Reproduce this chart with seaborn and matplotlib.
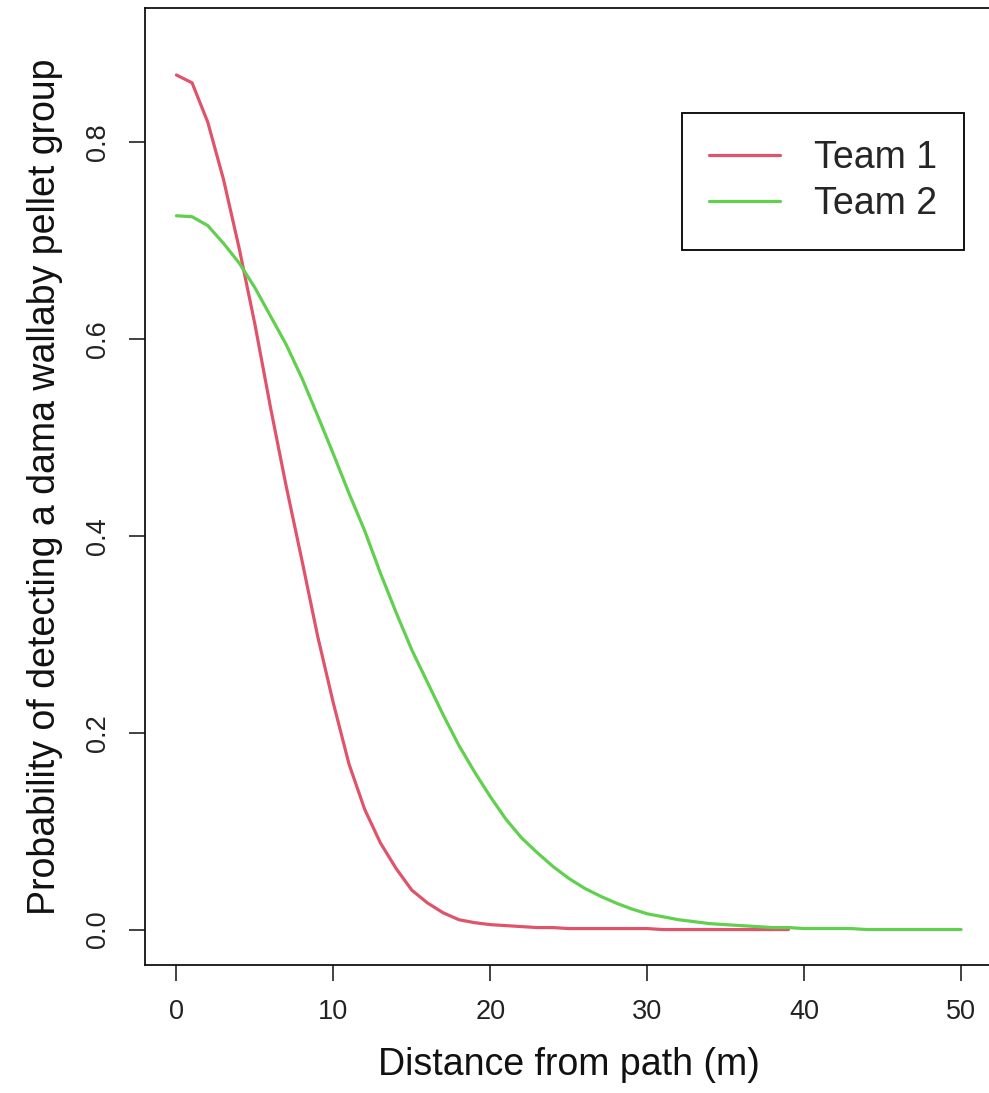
import numpy as np
import pandas as pd
import matplotlib
matplotlib.use("Agg")
import matplotlib.pyplot as plt
import seaborn as sns

# detection probability, one value per metre
team1_dist = list(range(0, 40))
team1_prob = [0.868, 0.860, 0.820, 0.762, 0.692, 0.615, 0.530, 0.450, 0.375, 0.298,
              0.230, 0.168, 0.122, 0.088, 0.062, 0.040, 0.027, 0.017, 0.010, 0.007,
              0.005, 0.004, 0.003, 0.002, 0.002, 0.001, 0.001, 0.001, 0.001, 0.001,
              0.001, 0.000, 0.000, 0.000, 0.000, 0.000, 0.000, 0.000, 0.000, 0.000]

team2_dist = list(range(0, 51))
team2_prob = [0.725, 0.724, 0.715, 0.697, 0.677, 0.652, 0.623, 0.594, 0.560, 0.522,
              0.483, 0.443, 0.405, 0.362, 0.322, 0.284, 0.251, 0.218, 0.187, 0.160,
              0.135, 0.112, 0.093, 0.078, 0.064, 0.052, 0.042, 0.034, 0.027, 0.021,
              0.016, 0.013, 0.010, 0.008, 0.006, 0.005, 0.004, 0.003, 0.002, 0.002,
              0.001, 0.001, 0.001, 0.001, 0.000, 0.000, 0.000, 0.000, 0.000, 0.000,
              0.000]

x_ticks = [0, 10, 20, 30, 40, 50]
y_ticks = [0.0, 0.2, 0.4, 0.6, 0.8]

df = pd.concat([
    pd.DataFrame({"dist": team1_dist, "prob": team1_prob, "team": "Team 1"}),
    pd.DataFrame({"dist": team2_dist, "prob": team2_prob, "team": "Team 2"}),
], ignore_index=True)

sns.set_theme(style="ticks")
plt.rcParams["font.family"] = ["Liberation Sans", "DejaVu Sans"]

fig = plt.figure(figsize=(9.89, 10.93), dpi=100)
ax = fig.add_axes([145 / 989, 128 / 1093, 847.5 / 989, 957 / 1093])

sns.lineplot(data=df, x="dist", y="prob", hue="team",
             palette={"Team 1": "#DF536B", "Team 2": "#61D04F"},
             linewidth=2.3, ax=ax, estimator=None)

ax.set_xlim(-2, 52)
ax.set_ylim(-0.036, 0.936)
ax.set_xticks(x_ticks)
ax.set_xticklabels([str(t) for t in x_ticks])
ax.set_yticks(y_ticks)
ax.set_yticklabels([f"{t:.1f}" for t in y_ticks], rotation=90, va="center")

ax.tick_params(axis="both", direction="out", length=11.5, width=1.2,
               labelsize=19.5, pad=13, colors="#222222")
for s in ax.spines.values():
    s.set_visible(True)
    s.set_linewidth(1.3)
    s.set_color("#111111")

ax.set_xlabel("Distance from path (m)", fontsize=27, labelpad=16, color="#111111")
ax.set_ylabel("Probability of detecting a dama wallaby pellet group",
              fontsize=27, labelpad=16, color="#111111")

leg = ax.legend(loc="upper right", bbox_to_anchor=((964 - 145) / 847.5, (965 - 113) / 957),
                borderaxespad=0, fontsize=27, handlelength=1.9, handletextpad=0.9,
                labelspacing=0.28, borderpad=0.72, fancybox=False, framealpha=1,
                edgecolor="black", title=None)
leg.get_frame().set_linewidth(1.3)
for line in leg.get_lines():
    line.set_linewidth(2.3)

fig.savefig("out.png", dpi=100)
